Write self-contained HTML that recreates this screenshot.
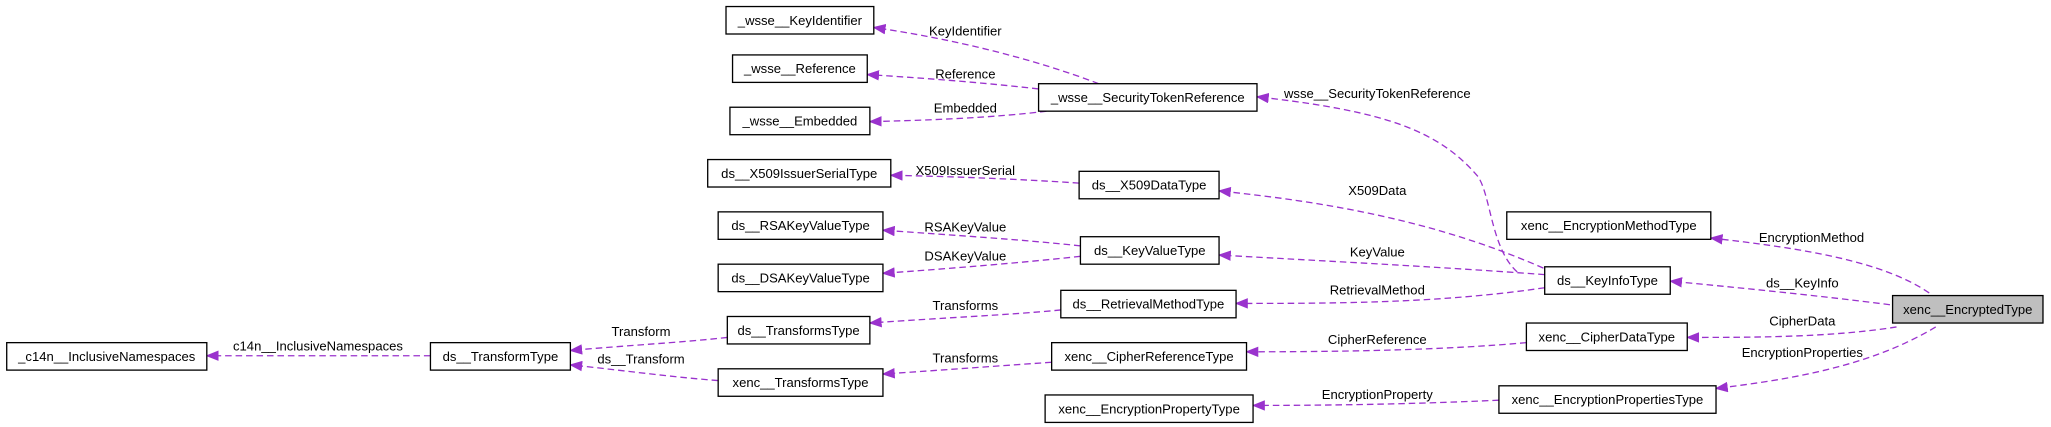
<!DOCTYPE html>
<html><head><meta charset="utf-8"><style>
html,body{margin:0;padding:0;background:#fff;}
svg{display:block;}
text{font-family:"Liberation Sans",Arial,sans-serif;font-size:10px;fill:#000;}
.b{fill:#fff;stroke:#000;stroke-width:1;}
.e{fill:none;stroke:#9a32cd;stroke-width:1;stroke-dasharray:5,3;}
</style></head><body>
<svg width="2051" height="427" viewBox="0 0 1568 326.5" xmlns="http://www.w3.org/2000/svg">
<defs><marker id="a" markerWidth="10" markerHeight="8" refX="9" refY="4" orient="auto" markerUnits="userSpaceOnUse"><path d="M0,0 L10,4 L0,8 z" fill="#9a32cd"/></marker></defs>
<g class="edges">
<path class="e" marker-end="url(#a)" d="M1475,224 C1440,200 1380,190 1308,182"/>
<path class="e" marker-end="url(#a)" d="M1445,233 C1390,226 1330,220 1277,215"/>
<path class="e" marker-end="url(#a)" d="M1450,250 C1400,258 1340,258 1290,258"/>
<path class="e" marker-end="url(#a)" d="M1480,250 C1430,280 1370,290 1312,297"/>
<path class="e" marker-end="url(#a)" d="M1160,208 C1140,190 1140,150 1130,135 C1100,100 1060,85 961,74"/>
<path class="e" marker-end="url(#a)" d="M1180,205 C1100,170 1020,155 932,146"/>
<path class="e" marker-end="url(#a)" d="M1181,210 C1100,204 1020,200 932,195"/>
<path class="e" marker-end="url(#a)" d="M1181,220 C1100,232 1020,232 945,232"/>
<path class="e" marker-end="url(#a)" d="M1167,262 C1100,268 1020,269 953,269"/>
<path class="e" marker-end="url(#a)" d="M1146,306 C1080,309 1020,310 958,310"/>
<path class="e" marker-end="url(#a)" d="M840,64 C790,45 730,30 668,21"/>
<path class="e" marker-end="url(#a)" d="M794,68 C750,63 710,60 663,57"/>
<path class="e" marker-end="url(#a)" d="M800,85 C760,90 710,92 665,93"/>
<path class="e" marker-end="url(#a)" d="M825,140 C780,137 730,135 681,134"/>
<path class="e" marker-end="url(#a)" d="M826,188 C780,183 730,180 675,176"/>
<path class="e" marker-end="url(#a)" d="M826,196 C780,201 730,205 675,209"/>
<path class="e" marker-end="url(#a)" d="M811,237 C770,241 720,243 665,247"/>
<path class="e" marker-end="url(#a)" d="M804,277 C760,280 720,283 675,286"/>
<path class="e" marker-end="url(#a)" d="M556,258 C520,262 480,264 436,268"/>
<path class="e" marker-end="url(#a)" d="M549,291 C510,288 475,283 436,279"/>
<path class="e" marker-end="url(#a)" d="M329,272 L158,272"/>
</g>
<g text-anchor="middle">
<text x="1385" y="185">EncryptionMethod</text>
<text x="1378" y="220">ds__KeyInfo</text>
<text x="1378" y="249">CipherData</text>
<text x="1378" y="273">EncryptionProperties</text>
<text x="1053" y="75">wsse__SecurityTokenReference</text>
<text x="1053" y="149">X509Data</text>
<text x="1053" y="196">KeyValue</text>
<text x="1053" y="225">RetrievalMethod</text>
<text x="1053" y="263">CipherReference</text>
<text x="1053" y="305">EncryptionProperty</text>
<text x="738" y="27">KeyIdentifier</text>
<text x="738" y="60">Reference</text>
<text x="738" y="86">Embedded</text>
<text x="738" y="134">X509IssuerSerial</text>
<text x="738" y="177">RSAKeyValue</text>
<text x="738" y="199">DSAKeyValue</text>
<text x="738" y="237">Transforms</text>
<text x="738" y="277">Transforms</text>
<text x="490" y="257">Transform</text>
<text x="490" y="278">ds__Transform</text>
<text x="243" y="268">c14n__InclusiveNamespaces</text>
</g>
<g>
<rect class="b" x="555" y="5" width="113" height="21"/>
<rect class="b" x="560" y="42" width="103" height="21"/>
<rect class="b" x="558" y="82" width="107" height="21"/>
<rect class="b" x="794" y="64" width="167" height="21"/>
<rect class="b" x="541" y="122" width="140" height="21"/>
<rect class="b" x="825" y="131" width="107" height="21"/>
<rect class="b" x="549" y="162" width="126" height="21"/>
<rect class="b" x="826" y="181" width="106" height="21"/>
<rect class="b" x="549" y="202" width="126" height="21"/>
<rect class="b" x="811" y="222" width="134" height="21"/>
<rect class="b" x="556" y="242" width="109" height="21"/>
<rect class="b" x="5" y="262" width="153" height="21"/>
<rect class="b" x="329" y="262" width="107" height="21"/>
<rect class="b" x="549" y="282" width="126" height="21"/>
<rect class="b" x="804" y="262" width="149" height="21"/>
<rect class="b" x="799" y="302" width="159" height="21"/>
<rect class="b" x="1152" y="162" width="156" height="21"/>
<rect class="b" x="1181" y="204" width="96" height="21"/>
<rect class="b" x="1167" y="247" width="123" height="21"/>
<rect class="b" x="1146" y="295" width="166" height="21"/>
<rect x="1447" y="226" width="115" height="21" fill="#bfbfbf" stroke="#000"/>
</g>
<g text-anchor="middle">
<text x="611.5" y="19">_wsse__KeyIdentifier</text>
<text x="611.5" y="56">_wsse__Reference</text>
<text x="611.5" y="96">_wsse__Embedded</text>
<text x="877.5" y="78">_wsse__SecurityTokenReference</text>
<text x="611" y="136">ds__X509IssuerSerialType</text>
<text x="878.5" y="145">ds__X509DataType</text>
<text x="612" y="176">ds__RSAKeyValueType</text>
<text x="879" y="195">ds__KeyValueType</text>
<text x="612" y="216">ds__DSAKeyValueType</text>
<text x="878" y="236">ds__RetrievalMethodType</text>
<text x="610.5" y="256">ds__TransformsType</text>
<text x="81.5" y="276">_c14n__InclusiveNamespaces</text>
<text x="382.5" y="276">ds__TransformType</text>
<text x="612" y="296">xenc__TransformsType</text>
<text x="878.5" y="276">xenc__CipherReferenceType</text>
<text x="878.5" y="316">xenc__EncryptionPropertyType</text>
<text x="1230" y="176">xenc__EncryptionMethodType</text>
<text x="1229" y="218">ds__KeyInfoType</text>
<text x="1228.5" y="261">xenc__CipherDataType</text>
<text x="1229" y="309">xenc__EncryptionPropertiesType</text>
<text x="1504.5" y="240">xenc__EncryptedType</text>
</g>
</svg>
</body></html>
